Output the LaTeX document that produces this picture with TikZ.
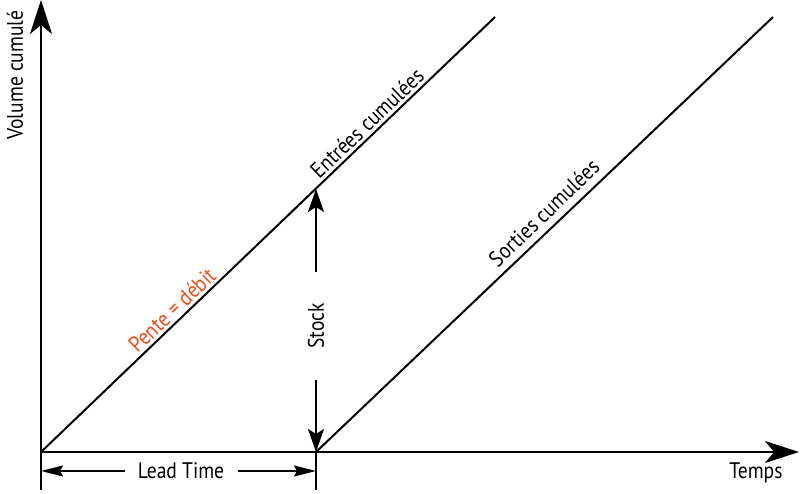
\documentclass[tikz,border=0pt]{standalone}
\usepackage{fontspec}
\setmainfont[FakeStretch=0.87]{PT Sans}
\usetikzlibrary{arrows.meta}
\definecolor{pente}{RGB}{232,80,28}
\begin{document}
\begin{tikzpicture}[x=1pt,y=1pt,
  axis/.style={line width=2.2pt,-{Stealth[length=34pt,width=22pt,inset=9pt]}},
  curve/.style={line width=2pt},
  stockarrow/.style={line width=2pt,-{Stealth[length=23pt,width=16pt,inset=5pt]}},
  leadarrow/.style={line width=2pt,-{Stealth[length=22pt,width=11pt,inset=3pt]}},
  tick/.style={line width=2pt},
  lbl/.style={font=\fontsize{22.5}{26}\selectfont,inner sep=0pt}]
\useasboundingbox (0,0) rectangle (800,493);
\coordinate (O) at (41,41);
\coordinate (Ytop) at (41,493);
\coordinate (Ybot) at (41,3);
\coordinate (Xend) at (799,41);
\coordinate (Eend) at (495,476);
\coordinate (S0) at (316,41);
\coordinate (Send) at (773,476);
\coordinate (Stick) at (316,3);
\coordinate (Etop) at (316,304);
% axes
\draw[axis] (Ybot) -- (Ytop);
\draw[axis] (O) -- (Xend);
\draw[tick] (S0) -- (Stick);
% curves
\draw[curve] (O) -- (Eend);
\draw[curve] (S0) -- (Send);
% labels on lines
\node[lbl,rotate=43.8] (lE) at (367,370) {Entrées cumulées};
\node[lbl,rotate=43.8] (lS) at (544,280) {Sorties cumulées};
\node[lbl,rotate=43.8,text=pente] (lP) at (172,183) {Pente = débit};
% stock
\node[lbl,rotate=90] (stock) at (316,167) {Stock};
\coordinate (stockUp) at (316,221);
\coordinate (stockDn) at (316,113);
\draw[stockarrow] (stockUp) -- (Etop);
\draw[stockarrow] (stockDn) -- (S0);
% lead time
\node[lbl] (lead) at (181,22) {Lead Time};
\coordinate (leadL) at (125,22);
\coordinate (leadR) at (238,22);
\coordinate (leadA) at (41,22);
\coordinate (leadB) at (316,22);
\draw[leadarrow] (leadL) -- (leadA);
\draw[leadarrow] (leadR) -- (leadB);
% axis labels
\node[lbl] (temps) at (756,20) {Temps};
\node[lbl,rotate=90] (vol) at (15,418) {Volume cumulé};
\end{tikzpicture}
\end{document}
